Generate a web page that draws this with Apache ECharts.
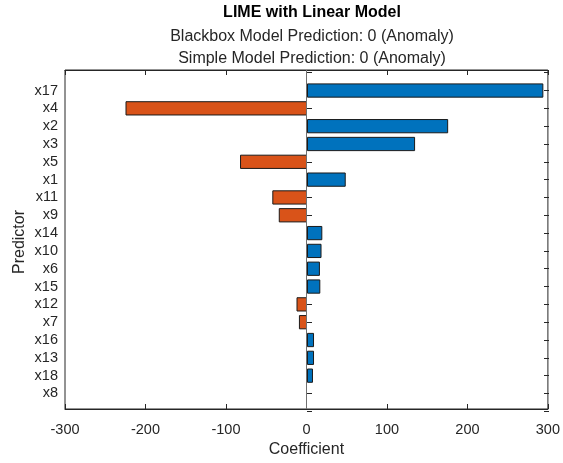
<!DOCTYPE html>
<html>
<head>
<meta charset="utf-8">
<script src="https://cdn.jsdelivr.net/npm/echarts@6/dist/echarts.min.js"></script>
<style>
  html, body { margin: 0; padding: 0; background: #fff; }
  #chart { width: 563px; height: 463px; }
</style>
</head>
<body>
<div id="chart"></div>
<script>
// Predictors, ordered by absolute coefficient (top to bottom)
const predictors = ['x17', 'x4', 'x2', 'x3', 'x5', 'x1', 'x11', 'x9', 'x14',
                    'x10', 'x6', 'x15', 'x12', 'x7', 'x16', 'x13', 'x18', 'x8'];
// Linear model coefficients for each predictor
const coefficients = [293, -225, 175, 134, -83, 48, -43, -35, 19,
                      18, 16, 16.5, -13, -10, 8.7, 8.7, 7.4, 0];
const xTicks = { min: -300, max: 300, step: 100 };

const titleText = 'LIME with Linear Model';
const subtitleLines = ['Blackbox Model Prediction: 0 (Anomaly)',
                       'Simple Model Prediction: 0 (Anomaly)'];

const POS_COLOR = '#0072BD';
const NEG_COLOR = '#D95319';
const INK = '#262626';
const FONT = 'Liberation Sans, Arial, Helvetica, sans-serif';

// Empty slots at both ends give one category of padding above and below
const axisCats = [''].concat(predictors, ['']);
const barData = [null].concat(coefficients.map(v => ({
  value: v,
  itemStyle: {
    color: v >= 0 ? POS_COLOR : NEG_COLOR,
    // a zero coefficient draws no outline
    borderWidth: v === 0 ? 0 : 1
  }
})), [null]);

const chart = echarts.init(document.getElementById('chart'), null, { renderer: 'canvas' });

const tickLabel = { color: INK, fontSize: 14.5, fontFamily: FONT };
const inTick = { show: true, inside: true, length: 5, lineStyle: { color: INK } };

chart.setOption({
  animation: false,
  backgroundColor: '#ffffff',
  title: [
    { text: titleText, left: 307, top: 0, textAlign: 'center',
      textStyle: { fontSize: 16, fontWeight: 'bold', color: '#000', fontFamily: FONT } },
    { text: subtitleLines[0], left: 307, top: 24, textAlign: 'center',
      textStyle: { fontSize: 16, fontWeight: 'normal', color: INK, fontFamily: FONT } },
    { text: subtitleLines[1], left: 307, top: 46, textAlign: 'center',
      textStyle: { fontSize: 16, fontWeight: 'normal', color: INK, fontFamily: FONT } }
  ],
  grid: [
    // axes box with the coefficient scale
    { left: 65, right: 14, top: 70, bottom: 50,
      show: true, borderColor: INK, borderWidth: 1, backgroundColor: '#fff' },
    // predictor rows
    { left: 65, right: 14, top: 72.7, bottom: 51.7 }
  ],
  xAxis: [
    {
      gridIndex: 0, type: 'value', position: 'bottom',
      min: xTicks.min, max: xTicks.max, interval: xTicks.step,
      name: 'Coefficient', nameLocation: 'middle', nameGap: 33,
      nameTextStyle: { color: INK, fontSize: 16, fontFamily: FONT },
      axisLine: { show: true, onZero: false, lineStyle: { color: INK } },
      axisTick: inTick,
      axisLabel: Object.assign({ margin: 13 }, tickLabel),
      splitLine: { show: false }
    },
    {
      gridIndex: 0, type: 'value', position: 'top',
      min: xTicks.min, max: xTicks.max, interval: xTicks.step,
      axisLine: { show: true, onZero: false, lineStyle: { color: INK } },
      axisTick: inTick,
      axisLabel: { show: false },
      splitLine: { show: false }
    },
    {
      gridIndex: 1, type: 'value', position: 'bottom',
      min: xTicks.min, max: xTicks.max, interval: xTicks.step,
      show: false
    }
  ],
  yAxis: [
    {
      gridIndex: 0, type: 'value', min: 0, max: 1, show: false
    },
    {
      gridIndex: 1, type: 'category', position: 'left', inverse: true, boundaryGap: false,
      data: axisCats,
      name: 'Predictor', nameLocation: 'middle', nameGap: 37, nameRotate: 90,
      nameMoveOverlap: false,
      nameTextStyle: { color: INK, fontSize: 16, fontFamily: FONT },
      axisLine: { show: false },
      axisTick: Object.assign({ interval: 0 }, inTick),
      axisLabel: Object.assign({ margin: 7, interval: 0 }, tickLabel),
      splitLine: { show: false }
    },
    {
      gridIndex: 1, type: 'category', position: 'right', inverse: true, boundaryGap: false,
      data: axisCats,
      axisLine: { show: false },
      axisTick: Object.assign({ interval: 0 }, inTick),
      axisLabel: { show: false },
      splitLine: { show: false }
    }
  ],
  series: [
    {
      // zero baseline across the full axes box
      type: 'line', xAxisIndex: 0, yAxisIndex: 0, data: [],
      markLine: {
        silent: true, symbol: 'none',
        label: { show: false },
        lineStyle: { color: '#707070', width: 1, type: 'solid' },
        data: [{ xAxis: 0 }]
      }
    },
    {
      type: 'bar',
      xAxisIndex: 2, yAxisIndex: 1,
      data: barData,
      barWidth: '80%',
      itemStyle: { borderColor: '#1a1a1a', borderWidth: 1 }
    }
  ]
});
</script>
</body>
</html>
